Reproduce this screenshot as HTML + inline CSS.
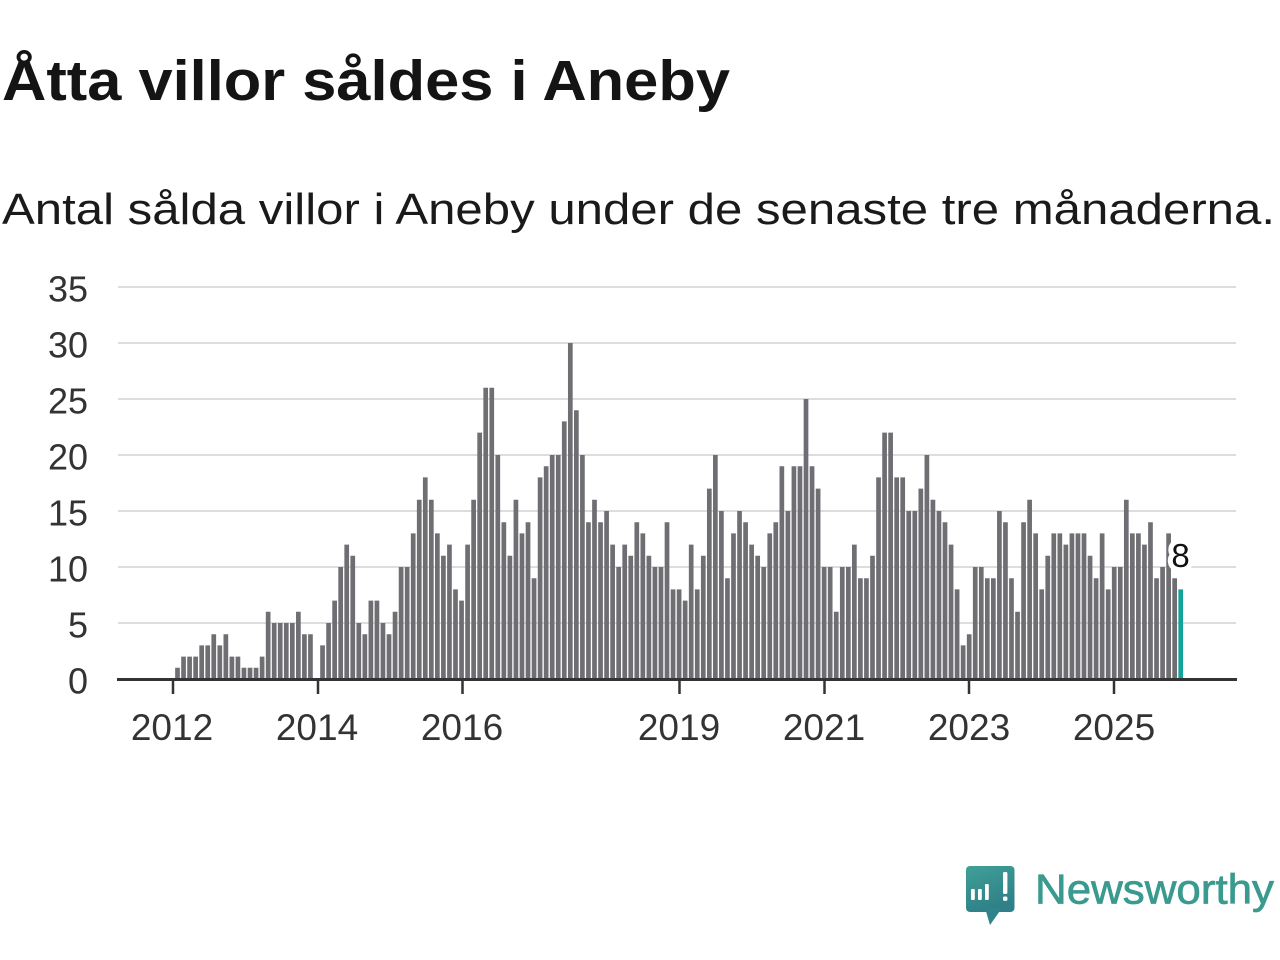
<!DOCTYPE html>
<html>
<head>
<meta charset="utf-8">
<style>
html, body { margin:0; padding:0; background:#ffffff; }
body { width:1280px; height:960px; overflow:hidden; }
svg { display:block; }
text { font-family: "Liberation Sans", "DejaVu Sans", sans-serif; }
</style>
</head>
<body>
<svg width="1280" height="960" viewBox="0 0 1280 960" xmlns="http://www.w3.org/2000/svg">
<rect x="0" y="0" width="1280" height="960" fill="#ffffff"/>
<text x="2" y="100" font-size="57" font-weight="bold" fill="#141414" textLength="728" lengthAdjust="spacingAndGlyphs">Åtta villor såldes i Aneby</text>
<text x="2" y="224" font-size="44" fill="#1a1a1a" textLength="1273" lengthAdjust="spacingAndGlyphs">Antal sålda villor i Aneby under de senaste tre månaderna.</text>
<g stroke="#dddddd" stroke-width="2">
<line x1="118" y1="287" x2="1236" y2="287"/>
<line x1="118" y1="343" x2="1236" y2="343"/>
<line x1="118" y1="399" x2="1236" y2="399"/>
<line x1="118" y1="455" x2="1236" y2="455"/>
<line x1="118" y1="511" x2="1236" y2="511"/>
<line x1="118" y1="567" x2="1236" y2="567"/>
<line x1="118" y1="623" x2="1236" y2="623"/>
</g>
<g font-size="36" fill="#333333" text-anchor="end">
<text x="88" y="301.5">35</text>
<text x="88" y="357.5">30</text>
<text x="88" y="413.5">25</text>
<text x="88" y="469.5">20</text>
<text x="88" y="525.5">15</text>
<text x="88" y="581.5">10</text>
<text x="88" y="637.5">5</text>
<text x="88" y="693.5">0</text>
</g>
<g transform="translate(175.15,679) scale(6.0434,-11.2)">
<path fill="#6f6e73" d="M0 0h.778v1h-.778z M1 0h.778v2h-.778z M2 0h.778v2h-.778z M3 0h.778v2h-.778z M4 0h.778v3h-.778z M5 0h.778v3h-.778z M6 0h.778v4h-.778z M7 0h.778v3h-.778z M8 0h.778v4h-.778z M9 0h.778v2h-.778z
M10 0h.778v2h-.778z M11 0h.778v1h-.778z M12 0h.778v1h-.778z M13 0h.778v1h-.778z M14 0h.778v2h-.778z M15 0h.778v6h-.778z M16 0h.778v5h-.778z M17 0h.778v5h-.778z M18 0h.778v5h-.778z M19 0h.778v5h-.778z
M20 0h.778v6h-.778z M21 0h.778v4h-.778z M22 0h.778v4h-.778z M24 0h.778v3h-.778z M25 0h.778v5h-.778z M26 0h.778v7h-.778z M27 0h.778v10h-.778z M28 0h.778v12h-.778z M29 0h.778v11h-.778z
M30 0h.778v5h-.778z M31 0h.778v4h-.778z M32 0h.778v7h-.778z M33 0h.778v7h-.778z M34 0h.778v5h-.778z M35 0h.778v4h-.778z M36 0h.778v6h-.778z M37 0h.778v10h-.778z M38 0h.778v10h-.778z M39 0h.778v13h-.778z
M40 0h.778v16h-.778z M41 0h.778v18h-.778z M42 0h.778v16h-.778z M43 0h.778v13h-.778z M44 0h.778v11h-.778z M45 0h.778v12h-.778z M46 0h.778v8h-.778z M47 0h.778v7h-.778z M48 0h.778v12h-.778z M49 0h.778v16h-.778z
M50 0h.778v22h-.778z M51 0h.778v26h-.778z M52 0h.778v26h-.778z M53 0h.778v20h-.778z M54 0h.778v14h-.778z M55 0h.778v11h-.778z M56 0h.778v16h-.778z M57 0h.778v13h-.778z M58 0h.778v14h-.778z M59 0h.778v9h-.778z
M60 0h.778v18h-.778z M61 0h.778v19h-.778z M62 0h.778v20h-.778z M63 0h.778v20h-.778z M64 0h.778v23h-.778z M65 0h.778v30h-.778z M66 0h.778v24h-.778z M67 0h.778v20h-.778z M68 0h.778v14h-.778z M69 0h.778v16h-.778z
M70 0h.778v14h-.778z M71 0h.778v15h-.778z M72 0h.778v12h-.778z M73 0h.778v10h-.778z M74 0h.778v12h-.778z M75 0h.778v11h-.778z M76 0h.778v14h-.778z M77 0h.778v13h-.778z M78 0h.778v11h-.778z M79 0h.778v10h-.778z
M80 0h.778v10h-.778z M81 0h.778v14h-.778z M82 0h.778v8h-.778z M83 0h.778v8h-.778z M84 0h.778v7h-.778z M85 0h.778v12h-.778z M86 0h.778v8h-.778z M87 0h.778v11h-.778z M88 0h.778v17h-.778z M89 0h.778v20h-.778z
M90 0h.778v15h-.778z M91 0h.778v9h-.778z M92 0h.778v13h-.778z M93 0h.778v15h-.778z M94 0h.778v14h-.778z M95 0h.778v12h-.778z M96 0h.778v11h-.778z M97 0h.778v10h-.778z M98 0h.778v13h-.778z M99 0h.778v14h-.778z
M100 0h.778v19h-.778z M101 0h.778v15h-.778z M102 0h.778v19h-.778z M103 0h.778v19h-.778z M104 0h.778v25h-.778z M105 0h.778v19h-.778z M106 0h.778v17h-.778z M107 0h.778v10h-.778z M108 0h.778v10h-.778z M109 0h.778v6h-.778z
M110 0h.778v10h-.778z M111 0h.778v10h-.778z M112 0h.778v12h-.778z M113 0h.778v9h-.778z M114 0h.778v9h-.778z M115 0h.778v11h-.778z M116 0h.778v18h-.778z M117 0h.778v22h-.778z M118 0h.778v22h-.778z M119 0h.778v18h-.778z
M120 0h.778v18h-.778z M121 0h.778v15h-.778z M122 0h.778v15h-.778z M123 0h.778v17h-.778z M124 0h.778v20h-.778z M125 0h.778v16h-.778z M126 0h.778v15h-.778z M127 0h.778v14h-.778z M128 0h.778v12h-.778z M129 0h.778v8h-.778z
M130 0h.778v3h-.778z M131 0h.778v4h-.778z M132 0h.778v10h-.778z M133 0h.778v10h-.778z M134 0h.778v9h-.778z M135 0h.778v9h-.778z M136 0h.778v15h-.778z M137 0h.778v14h-.778z M138 0h.778v9h-.778z M139 0h.778v6h-.778z
M140 0h.778v14h-.778z M141 0h.778v16h-.778z M142 0h.778v13h-.778z M143 0h.778v8h-.778z M144 0h.778v11h-.778z M145 0h.778v13h-.778z M146 0h.778v13h-.778z M147 0h.778v12h-.778z M148 0h.778v13h-.778z M149 0h.778v13h-.778z
M150 0h.778v13h-.778z M151 0h.778v11h-.778z M152 0h.778v9h-.778z M153 0h.778v13h-.778z M154 0h.778v8h-.778z M155 0h.778v10h-.778z M156 0h.778v10h-.778z M157 0h.778v16h-.778z M158 0h.778v13h-.778z M159 0h.778v13h-.778z
M160 0h.778v12h-.778z M161 0h.778v14h-.778z M162 0h.778v9h-.778z M163 0h.778v10h-.778z M164 0h.778v13h-.778z M165 0h.778v9h-.778z"/>
<path fill="#14a39a" d="M166 0h.778v8h-.778z"/>
</g>
<line x1="117" y1="679.5" x2="1237" y2="679.5" stroke="#333333" stroke-width="3"/>
<g stroke="#333333" stroke-width="2.5">
<line x1="173" y1="680" x2="173" y2="694"/>
<line x1="318" y1="680" x2="318" y2="694"/>
<line x1="462.5" y1="680" x2="462.5" y2="694"/>
<line x1="679.5" y1="680" x2="679.5" y2="694"/>
<line x1="824.5" y1="680" x2="824.5" y2="694"/>
<line x1="969" y1="680" x2="969" y2="694"/>
<line x1="1114" y1="680" x2="1114" y2="694"/>
</g>
<g font-size="37" fill="#333333" text-anchor="middle">
<text x="172" y="740">2012</text>
<text x="317" y="740">2014</text>
<text x="462" y="740">2016</text>
<text x="679" y="740">2019</text>
<text x="824" y="740">2021</text>
<text x="969" y="740">2023</text>
<text x="1114" y="740">2025</text>
</g>
<text x="1180.5" y="567" font-size="33" fill="#111111" text-anchor="middle" stroke="#ffffff" stroke-width="10" stroke-linejoin="round" paint-order="stroke">8</text>
<defs>
<linearGradient id="lg" x1="0" y1="0" x2="0.4" y2="1">
<stop offset="0" stop-color="#40a096"/>
<stop offset="1" stop-color="#2f8088"/>
</linearGradient>
</defs>
<rect x="966" y="866" width="48.5" height="46" rx="4" fill="url(#lg)"/>
<polygon points="985,908 1002,908 990,925" fill="#30838a"/>
<g fill="#ffffff">
<rect x="971" y="889" width="3.8" height="11" rx="1"/>
<rect x="978" y="889" width="3.8" height="11" rx="1"/>
<rect x="985" y="884" width="3.8" height="16" rx="1"/>
<rect x="1003" y="872" width="4.4" height="22" rx="1.5"/>
<rect x="1003" y="896.5" width="4.4" height="4.4" rx="1.5"/>
</g>
<text x="1035" y="903.5" font-size="42" fill="#3a9a8f" stroke="#3a9a8f" stroke-width="0.7" textLength="239" lengthAdjust="spacingAndGlyphs">Newsworthy</text>
</svg>
</body>
</html>
